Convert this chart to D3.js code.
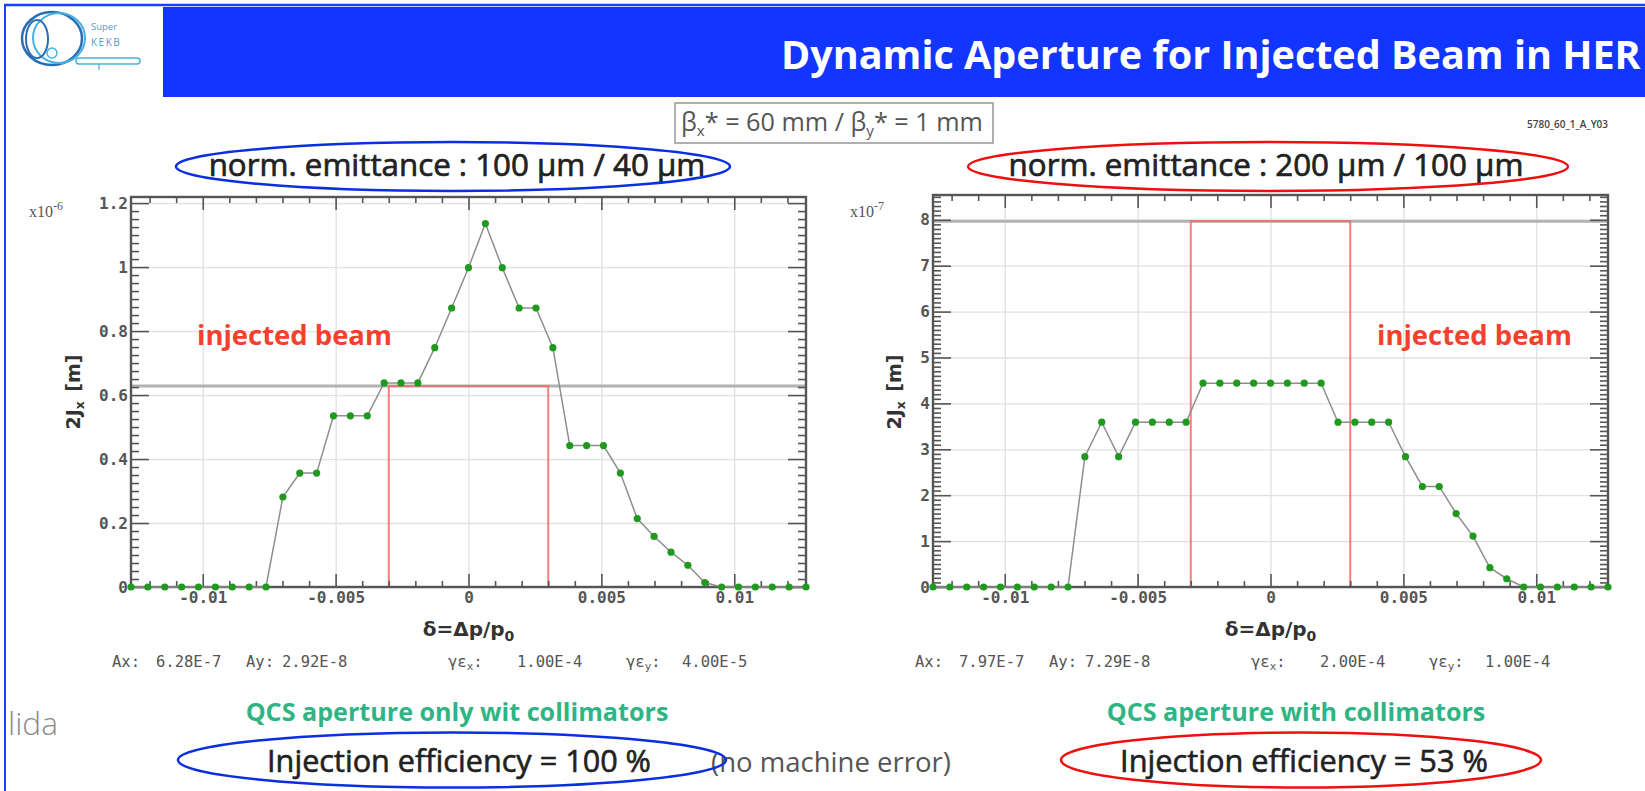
<!DOCTYPE html>
<html>
<head>
<meta charset="utf-8">
<script src="https://cdn.jsdelivr.net/npm/d3@7"></script>
<style>
  html, body { margin: 0; padding: 0; background: #fff; }
  svg { display: block; }
</style>
</head>
<body>
<svg id="slide" width="1645" height="791"></svg>
<script>
// Momentum deviation grid of the tracking scan (delta = dp/p0)
const delta = [
  -0.012700, -0.012065, -0.011430, -0.010795, -0.010160, -0.009525, -0.008890,
  -0.008255, -0.007620, -0.006985, -0.006350, -0.005715, -0.005080, -0.004445,
  -0.003810, -0.003175, -0.002540, -0.001905, -0.001270, -0.000635, 0,
   0.000635,  0.001270,  0.001905,  0.002540,  0.003175,  0.003810,  0.004445,
   0.005080,  0.005715,  0.006350,  0.006985,  0.007620,  0.008255,  0.008890,
   0.009525,  0.010160,  0.010795,  0.011430,  0.012065,  0.012700
];

// Horizontal dynamic aperture 2Jx, emittance 100 um / 40 um (units of 1e-6 m)
const apertureLow = [
  0, 0, 0, 0, 0, 0, 0, 0, 0,
  0.281, 0.356, 0.356, 0.535, 0.535, 0.535, 0.638, 0.638, 0.638,
  0.748, 0.872, 0.998, 1.136, 0.998, 0.872, 0.872, 0.748,
  0.442, 0.442, 0.442, 0.356, 0.214, 0.158, 0.109, 0.068, 0.014,
  0, 0, 0, 0, 0, 0
];

// Horizontal dynamic aperture 2Jx, emittance 200 um / 100 um (units of 1e-7 m)
const apertureHigh = [
  0, 0, 0, 0, 0, 0, 0, 0, 0,
  2.84, 3.59, 2.84, 3.59, 3.59, 3.59, 3.59,
  4.44, 4.44, 4.44, 4.44, 4.44, 4.44, 4.44, 4.44,
  3.59, 3.59, 3.59, 3.59, 2.84, 2.19, 2.19, 1.60, 1.11, 0.42, 0.18,
  0, 0, 0, 0, 0, 0
];

// Injected beam size (Ax) and momentum spread of the injected beam
const beamAxLow = 0.628;   // x1e-6
const beamAxHigh = 7.97;   // x1e-7
const beamHalfSpread = 0.003;

// Axis ticks and labels
const xTicks = [-0.01, -0.005, 0, 0.005, 0.01];
const xTickLabels = ["-0.01", "-0.005", "0", "0.005", "0.01"];
const yTicksLow = [0, 0.2, 0.4, 0.6, 0.8, 1, 1.2];
const yTickLabelsLow = ["0", "0.2", "0.4", "0.6", "0.8", "1", "1.2"];
const yTicksHigh = [0, 1, 2, 3, 4, 5, 6, 7, 8];
const yTickLabelsHigh = ["0", "1", "2", "3", "4", "5", "6", "7", "8"];

// Beam parameter footers
const paramsLow = ["6.28E-7", "2.92E-8", "1.00E-4", "4.00E-5"];
const paramsHigh = ["7.97E-7", "7.29E-8", "2.00E-4", "1.00E-4"];

const svg = d3.select("#slide");
const MONO = "'DejaVu Sans Mono', 'Liberation Mono', monospace";
const SANS = "'Open Sans', 'Noto Sans', 'DejaVu Sans', sans-serif";

// shrink/grow a text element so that it spans a given width
function fitWidth(sel, target) {
  const len = sel.node().getComputedTextLength();
  const fs = parseFloat(sel.attr("font-size"));
  if (len > 0) sel.attr("font-size", fs * target / len);
  return sel;
}

// ---------- slide frame and header ----------
svg.append("rect").attr("x", 0).attr("y", 0).attr("width", 1645).attr("height", 791).attr("fill", "#fff");
svg.append("line").attr("x1", 4).attr("x2", 1645).attr("y1", 5).attr("y2", 5)
  .attr("stroke", "#1e3cff").attr("stroke-width", 2.5);
svg.append("line").attr("x1", 5).attr("x2", 5).attr("y1", 4).attr("y2", 791)
  .attr("stroke", "#1e3cff").attr("stroke-width", 2);
svg.append("rect").attr("x", 163).attr("y", 7).attr("width", 1482).attr("height", 90)
  .attr("fill", "#1236ff");

const title = svg.append("text")
  .attr("x", 781).attr("y", 69)
  .attr("font-family", SANS).attr("font-weight", 700).attr("font-size", 34)
  .attr("fill", "#fff")
  .text("Dynamic Aperture for Injected Beam in HER");
fitWidth(title, 860);

// SuperKEKB logo
const logo = svg.append("g").attr("fill", "none");
logo.append("ellipse").attr("cx", 52).attr("cy", 38.5).attr("rx", 30).attr("ry", 26.5)
  .attr("stroke", "#2a6db5").attr("stroke-width", 2.5);
logo.append("ellipse").attr("cx", 59).attr("cy", 38).attr("rx", 26).attr("ry", 25)
  .attr("stroke", "#43b2e2").attr("stroke-width", 2);
logo.append("ellipse").attr("cx", 37).attr("cy", 39).attr("rx", 11).attr("ry", 19)
  .attr("stroke", "#2a6db5").attr("stroke-width", 2);
logo.append("circle").attr("cx", 52).attr("cy", 53).attr("r", 5)
  .attr("stroke", "#43b2e2").attr("stroke-width", 1.5);
logo.append("rect").attr("x", 76).attr("y", 58).attr("width", 64).attr("height", 6).attr("rx", 3)
  .attr("stroke", "#43b2e2").attr("stroke-width", 1.5);
logo.append("line").attr("x1", 99).attr("x2", 99).attr("y1", 64).attr("y2", 70)
  .attr("stroke", "#43b2e2").attr("stroke-width", 1.2);
logo.append("text").attr("x", 91).attr("y", 30).attr("font-family", SANS).attr("font-size", 9.5)
  .attr("fill", "#5a9cc8").text("Super");
logo.append("text").attr("x", 91).attr("y", 46).attr("font-family", SANS).attr("font-size", 10)
  .attr("fill", "#5a9cc8").attr("letter-spacing", 1.5).text("KEKB");

// optics box
svg.append("rect").attr("x", 675).attr("y", 103).attr("width", 318).attr("height", 40)
  .attr("fill", "#fff").attr("stroke", "#a8a8a8").attr("stroke-width", 1.8);
const optics = svg.append("text").attr("x", 681).attr("y", 131)
  .attr("font-family", SANS).attr("font-size", 22).attr("fill", "#555");
optics.append("tspan").text("β");
optics.append("tspan").attr("font-size", "0.6em").attr("dy", "0.3em").text("x");
optics.append("tspan").attr("dy", "-0.18em").text("* = 60 mm / β");
optics.append("tspan").attr("font-size", "0.6em").attr("dy", "0.3em").text("y");
optics.append("tspan").attr("dy", "-0.18em").text("* = 1 mm");
fitWidth(optics, 302);

svg.append("text").attr("x", 1527).attr("y", 128)
  .attr("font-family", SANS).attr("font-size", 10).attr("font-weight", 600)
  .attr("fill", "#444").text("5780_60_1_A_Y03");

// ---------- one aperture panel ----------
function drawPanel(p) {
  const g = svg.append("g");
  const x = d3.scaleLinear().domain([delta[0], delta[delta.length - 1]]).range([p.left, p.right]);
  const y = d3.scaleLinear().domain([0, p.yTop]).range([p.bottom, p.top]);
  const w = p.right - p.left, h = p.bottom - p.top;
  const xMinor = d3.range(-0.012, 0.01201, 0.001).filter(v => Math.abs(v / 0.005 - Math.round(v / 0.005)) > 1e-6);
  const yMinor = d3.range(0, p.yTop, p.yMinorStep).filter(v => !p.yTicks.some(t => Math.abs(t - v) < 1e-9));

  const plain = s => { s.select(".domain").remove(); s.selectAll("line").attr("stroke", "#555").attr("stroke-width", 1.6); };
  const labelStyle = s => s.selectAll("text").attr("font-family", MONO).attr("font-size", 16)
    .attr("font-weight", 700).attr("fill", "#555");

  // grid
  g.append("g").attr("transform", `translate(0,${p.bottom})`)
    .call(d3.axisBottom(x).tickValues(xTicks).tickSize(-h).tickFormat(""))
    .call(s => { s.select(".domain").remove(); s.selectAll("line").attr("stroke", "#e0e0e0").attr("stroke-width", 1.3); });
  g.append("g").attr("transform", `translate(${p.left},0)`)
    .call(d3.axisLeft(y).tickValues(p.yTicks).tickSize(-w).tickFormat(""))
    .call(s => { s.select(".domain").remove(); s.selectAll("line").attr("stroke", "#e0e0e0").attr("stroke-width", 1.3); });

  // injected beam size line and beam box
  g.append("line").attr("x1", p.left).attr("x2", p.right)
    .attr("y1", y(p.ax)).attr("y2", y(p.ax))
    .attr("stroke", "#b2b2b2").attr("stroke-width", 3);
  g.append("rect")
    .attr("x", x(-beamHalfSpread)).attr("y", y(p.ax))
    .attr("width", x(beamHalfSpread) - x(-beamHalfSpread))
    .attr("height", y(0) - y(p.ax))
    .attr("fill", "none").attr("stroke", "#f26868").attr("stroke-width", 2).attr("opacity", 0.85);

  // ticks on all four sides, pointing inwards
  g.append("g").attr("transform", `translate(0,${p.bottom})`)
    .call(d3.axisBottom(x).tickValues(xTicks).tickSize(-13).tickPadding(5)
      .tickFormat((d, i) => xTickLabels[i]))
    .call(plain).call(labelStyle);
  g.append("g").attr("transform", `translate(0,${p.bottom})`)
    .call(d3.axisBottom(x).tickValues(xMinor).tickSize(-6).tickFormat("")).call(plain);
  g.append("g").attr("transform", `translate(0,${p.top})`)
    .call(d3.axisTop(x).tickValues(xTicks).tickSize(-13).tickFormat("")).call(plain);
  g.append("g").attr("transform", `translate(0,${p.top})`)
    .call(d3.axisTop(x).tickValues(xMinor).tickSize(-6).tickFormat("")).call(plain);

  g.append("g").attr("transform", `translate(${p.left},0)`)
    .call(d3.axisLeft(y).tickValues(p.yTicks).tickSize(-18).tickPadding(3)
      .tickFormat((d, i) => p.yLabels[i]))
    .call(plain).call(labelStyle);
  g.append("g").attr("transform", `translate(${p.left},0)`)
    .call(d3.axisLeft(y).tickValues(yMinor).tickSize(-8).tickFormat("")).call(plain);
  g.append("g").attr("transform", `translate(${p.right},0)`)
    .call(d3.axisRight(y).tickValues(p.yTicks).tickSize(-18).tickFormat("")).call(plain);
  g.append("g").attr("transform", `translate(${p.right},0)`)
    .call(d3.axisRight(y).tickValues(yMinor).tickSize(-8).tickFormat("")).call(plain);

  // frame
  g.append("rect").attr("x", p.left).attr("y", p.top).attr("width", w).attr("height", h)
    .attr("fill", "none").attr("stroke", "#555").attr("stroke-width", 2.4);

  // aperture curve
  const pts = delta.map((d, i) => [d, p.values[i]]);
  g.append("path").datum(pts)
    .attr("d", d3.line().x(d => x(d[0])).y(d => y(d[1])))
    .attr("fill", "none").attr("stroke", "#8e8e8e").attr("stroke-width", 1.5);
  g.selectAll("circle.pt").data(pts).join("circle").attr("class", "pt")
    .attr("cx", d => x(d[0])).attr("cy", d => y(d[1])).attr("r", 3.6)
    .attr("fill", "#1f9a1f");

  // exponent marker
  const ex = g.append("text").attr("x", p.expX).attr("y", 217)
    .attr("font-family", "'Liberation Serif', 'DejaVu Serif', serif").attr("font-size", 16).attr("fill", "#555");
  ex.append("tspan").text("x10");
  ex.append("tspan").attr("font-size", "0.75em").attr("dy", "-0.55em").text(p.exp);

  // axis titles
  const yt = g.append("text")
    .attr("transform", `translate(${p.yTitleX},392) rotate(-90)`)
    .attr("text-anchor", "middle").attr("font-family", "'DejaVu Sans', sans-serif")
    .attr("font-weight", 700).attr("font-size", 19).attr("fill", "#333");
  yt.append("tspan").text("2J");
  yt.append("tspan").attr("font-size", "0.65em").attr("dy", "0.35em").text("x");
  yt.append("tspan").attr("dy", "-0.23em").attr("dx", "0.5em").text("[m]");

  const xt = g.append("text").attr("x", x(0)).attr("y", 636)
    .attr("text-anchor", "middle").attr("font-family", "'DejaVu Sans', sans-serif")
    .attr("font-weight", 700).attr("font-size", 20).attr("fill", "#333");
  xt.append("tspan").text("δ=Δp/p");
  xt.append("tspan").attr("font-size", "0.7em").attr("dy", "0.35em").text("0");

  // beam parameter footer
  const base = p.footerX;
  const fy = 667;
  const foot = g.append("g").attr("font-family", MONO).attr("font-size", 15.5).attr("fill", "#555");
  foot.append("text").attr("x", base).attr("y", fy).text("Ax:");
  foot.append("text").attr("x", base + 44).attr("y", fy).text(p.params[0]);
  foot.append("text").attr("x", base + 134).attr("y", fy).text("Ay:");
  foot.append("text").attr("x", base + 170).attr("y", fy).text(p.params[1]);
  const gx = foot.append("text").attr("x", base + 336).attr("y", fy);
  gx.append("tspan").text("γε");
  gx.append("tspan").attr("font-size", "0.7em").attr("dy", "0.3em").text("x");
  gx.append("tspan").attr("dy", "-0.21em").text(":");
  foot.append("text").attr("x", base + 405).attr("y", fy).text(p.params[2]);
  const gy = foot.append("text").attr("x", base + 514).attr("y", fy);
  gy.append("tspan").text("γε");
  gy.append("tspan").attr("font-size", "0.7em").attr("dy", "0.3em").text("y");
  gy.append("tspan").attr("dy", "-0.21em").text(":");
  foot.append("text").attr("x", base + 570).attr("y", fy).text(p.params[3]);

  // injected beam label
  const lbl = g.append("text").attr("x", p.labelX).attr("y", 345)
    .attr("font-family", SANS).attr("font-weight", 700).attr("font-size", 24)
    .attr("fill", "#f4412e").text("injected beam");
  fitWidth(lbl, 195);
}

drawPanel({
  left: 131, right: 806, top: 197, bottom: 587,
  yTop: 1.219, yTicks: yTicksLow, yLabels: yTickLabelsLow, yMinorStep: 0.025,
  values: apertureLow, ax: beamAxLow, exp: "-6", expX: 29,
  yTitleX: 80, footerX: 112, params: paramsLow, labelX: 197
});
drawPanel({
  left: 933, right: 1608, top: 195, bottom: 587,
  yTop: 8.54, yTicks: yTicksHigh, yLabels: yTickLabelsHigh, yMinorStep: 0.1,
  values: apertureHigh, ax: beamAxHigh, exp: "-7", expX: 850,
  yTitleX: 901, footerX: 915, params: paramsHigh, labelX: 1377
});

// ---------- emittance headings ----------
function centredFit(txt, cx, yBase, width, size, color, weight, thick) {
  const t = svg.append("text").attr("x", cx).attr("y", yBase).attr("text-anchor", "middle")
    .attr("font-family", SANS).attr("font-size", size).attr("fill", color)
    .attr("font-weight", weight || 400).text(txt);
  if (thick) t.attr("stroke", color).attr("stroke-width", thick);
  fitWidth(t, width);
  return t;
}
centredFit("norm. emittance : 100 μm / 40 μm", 457, 176, 497, 26, "#222", 400, 0.7);
centredFit("norm. emittance : 200 μm / 100 μm", 1266, 176, 515, 26, "#222", 400, 0.7);
svg.append("ellipse").attr("cx", 453).attr("cy", 166.5).attr("rx", 277).attr("ry", 24.5)
  .attr("fill", "none").attr("stroke", "#0a2ee0").attr("stroke-width", 2.5);
svg.append("ellipse").attr("cx", 1268).attr("cy", 166.5).attr("rx", 300).attr("ry", 24.5)
  .attr("fill", "none").attr("stroke", "#ee1010").attr("stroke-width", 2.5);

// ---------- bottom notes ----------
centredFit("QCS aperture only wit collimators", 457, 721, 423, 22, "#2fb584", 700);
centredFit("QCS aperture with collimators", 1296, 721, 379, 22, "#2fb584", 700);
centredFit("Injection efficiency = 100 %", 459, 772, 384, 25, "#222", 400, 0.6);
centredFit("Injection efficiency = 53 %", 1304, 772, 368, 25, "#222", 400, 0.6);
centredFit("(no machine error)", 831, 772, 240, 24, "#555");
svg.append("ellipse").attr("cx", 452).attr("cy", 760).attr("rx", 274).attr("ry", 27.5)
  .attr("fill", "none").attr("stroke", "#0a2ee0").attr("stroke-width", 2.5);
svg.append("ellipse").attr("cx", 1301).attr("cy", 760).attr("rx", 240).attr("ry", 27.5)
  .attr("fill", "none").attr("stroke", "#ee1010").attr("stroke-width", 2.5);

const who = svg.append("text").attr("x", 8).attr("y", 735)
  .attr("font-family", SANS).attr("font-weight", 300).attr("font-size", 28)
  .attr("fill", "#8a8a8a").text("lida");
fitWidth(who, 50);
</script>
</body>
</html>
